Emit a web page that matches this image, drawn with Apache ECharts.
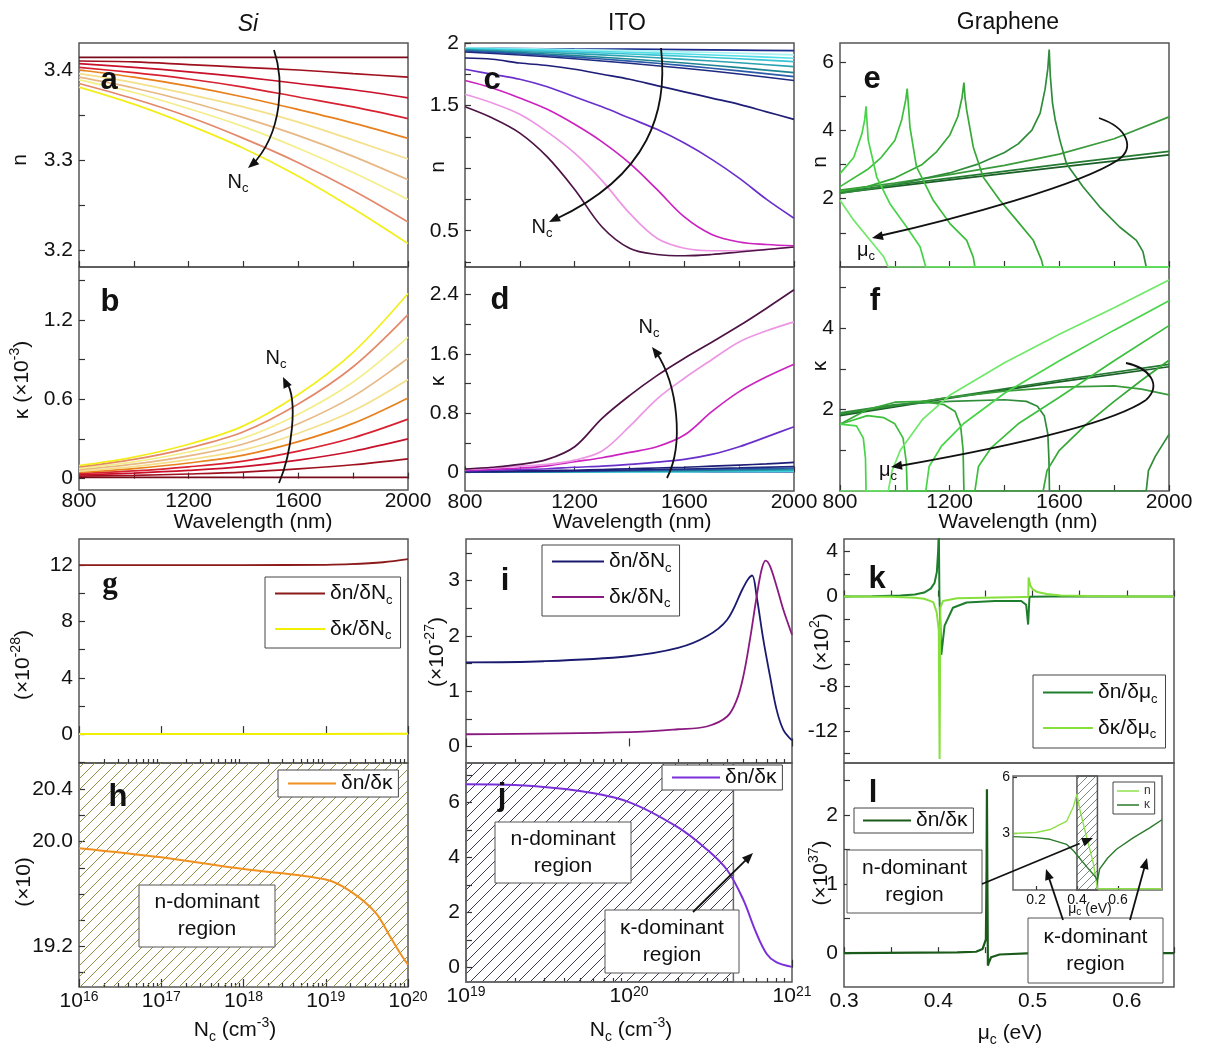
<!DOCTYPE html>
<html><head><meta charset="utf-8">
<script src="https://cdn.jsdelivr.net/npm/echarts@6/dist/echarts.min.js"></script>
<style>html,body{margin:0;padding:0;background:#fff}#c{width:1216px;height:1051px}</style>
</head><body><div id="c"></div>
<script>
// ================= DATA =================
// --- Si (panels a, b) ---
const wlSi = [800,1000,1200,1400,1600,1800,2000];
const siN = [
 [3.414,3.414,3.414,3.414,3.414,3.414,3.414],
 [3.410,3.409,3.406,3.403,3.400,3.396,3.392],
 [3.407,3.403,3.398,3.392,3.385,3.378,3.369],
 [3.403,3.397,3.390,3.381,3.370,3.359,3.346],
 [3.400,3.392,3.382,3.370,3.356,3.341,3.324],
 [3.396,3.386,3.373,3.359,3.342,3.322,3.301],
 [3.392,3.380,3.365,3.347,3.327,3.304,3.278],
 [3.389,3.375,3.357,3.337,3.313,3.286,3.256],
 [3.385,3.368,3.348,3.324,3.297,3.266,3.231],
 [3.381,3.362,3.339,3.313,3.282,3.246,3.207]
];
const siK = [
 [0.01,0.01,0.01,0.01,0.01,0.01,0.01],
 [0.019,0.025,0.035,0.049,0.073,0.105,0.15],
 [0.029,0.042,0.062,0.091,0.14,0.207,0.30],
 [0.038,0.058,0.089,0.133,0.208,0.309,0.45],
 [0.048,0.076,0.118,0.178,0.28,0.418,0.61],
 [0.057,0.091,0.143,0.217,0.343,0.513,0.75],
 [0.068,0.109,0.172,0.262,0.415,0.622,0.91],
 [0.078,0.127,0.201,0.307,0.487,0.731,1.07],
 [0.089,0.145,0.231,0.354,0.564,0.846,1.24],
 [0.099,0.163,0.26,0.399,0.636,0.955,1.40]
];
const siColors = ['#7a0a1a','#a0101e','#c8102a','#d82232','#e8801e','#f4e08a','#e8b884','#f4ee8a','#e4886a','#f2ee1a'];

// --- ITO (panels c, d) ---
const wlItoCoarse = [800,1000,1200,1400,1600,1800,2000];
const itoNLow = [
 [1.958,1.956,1.953,1.951,1.947,1.943,1.939],
 [1.962,1.956,1.948,1.940,1.929,1.918,1.905],
 [1.957,1.949,1.938,1.926,1.912,1.896,1.878],
 [1.952,1.941,1.928,1.912,1.894,1.874,1.851],
 [1.947,1.932,1.915,1.894,1.869,1.842,1.811],
 [1.942,1.923,1.899,1.872,1.840,1.803,1.763],
 [1.936,1.914,1.887,1.855,1.819,1.777,1.731],
 [1.928,1.904,1.874,1.838,1.798,1.752,1.700]
];
const itoKLow = [
 [0.002,0.002,0.003,0.003,0.004,0.004,0.005],
 [0.003,0.004,0.005,0.006,0.008,0.009,0.010],
 [0.004,0.005,0.007,0.009,0.011,0.013,0.016],
 [0.005,0.006,0.009,0.012,0.015,0.019,0.024],
 [0.005,0.008,0.011,0.016,0.021,0.027,0.034],
 [0.006,0.010,0.014,0.020,0.027,0.036,0.046],
 [0.007,0.012,0.018,0.026,0.036,0.047,0.060],
 [0.008,0.014,0.022,0.033,0.046,0.062,0.080]
];
const itoLowColors = ['#1c2a8c','#a8f2f2','#52dfe8','#38c4d4','#2aa2b2','#1e8492','#2a5aa8','#1e2a80'];
const wlItoFine = [800,900,1000,1100,1200,1300,1400,1500,1600,1700,1800,1900,2000];
const itoNHigh = [
 [1.88,1.87,1.84,1.82,1.79,1.75,1.71,1.66,1.61,1.56,1.51,1.45,1.39],
 [1.79,1.75,1.71,1.65,1.57,1.49,1.40,1.31,1.20,1.07,0.92,0.75,0.60],
 [1.70,1.64,1.56,1.47,1.35,1.21,1.04,0.83,0.61,0.47,0.41,0.39,0.38],
 [1.59,1.52,1.43,1.29,1.12,0.90,0.64,0.44,0.36,0.34,0.34,0.35,0.37],
 [1.49,1.40,1.28,1.09,0.83,0.53,0.36,0.31,0.30,0.31,0.33,0.35,0.37]
];
const itoKHigh = [
 [0.01,0.015,0.02,0.025,0.03,0.04,0.05,0.06,0.07,0.085,0.10,0.115,0.135],
 [0.02,0.03,0.04,0.05,0.07,0.085,0.108,0.14,0.176,0.243,0.347,0.48,0.617],
 [0.03,0.045,0.06,0.09,0.144,0.198,0.27,0.347,0.504,0.82,1.09,1.29,1.46],
 [0.04,0.06,0.086,0.108,0.167,0.29,0.62,0.99,1.27,1.52,1.76,1.91,2.03],
 [0.045,0.07,0.108,0.176,0.347,0.73,1.036,1.306,1.54,1.756,1.977,2.215,2.463]
];
const itoHighColors = ['#1e1e78','#6a30cc','#cc22c0','#ec96e4','#4e1446'];

// --- Graphene (panels e, f): [wavelength nm, value] ---
const grN1 = [[800,2.17],[1200,2.55],[1600,2.92],[2000,3.28]];
const grN2 = [[800,2.2],[1200,2.6],[1600,3.0],[2000,3.38]];
const grN3 = [[800,2.25],[1000,2.45],[1200,2.7],[1400,2.97],[1600,3.3],[1800,3.75],[2000,4.39]];
const grN4 = [[800,2.15],[1000,2.4],[1200,2.75],[1300,3.0],[1400,3.35],[1450,3.6],[1500,4.0],[1530,4.5],[1548,5.2],[1558,5.8],[1563,6.36],[1567,5.6],[1575,4.8],[1585,4.3],[1602,3.71],[1626,3.02],[1687,2.34],[1747,1.76],[1820,1.17],[1881,0.78],[1905,0.45],[1917,0],[2000,0]];
const grN5 = [[800,2.2],[900,2.35],[1000,2.6],[1100,3.0],[1150,3.35],[1200,3.85],[1230,4.4],[1245,4.95],[1252,5.39],[1256,4.95],[1262,4.59],[1286,3.51],[1322,2.63],[1383,1.95],[1444,1.37],[1505,0.78],[1535,0.2],[1541,0],[2000,0]];
const grN6 = [[800,2.35],[900,2.85],[950,3.2],[1000,3.7],[1025,4.3],[1040,4.9],[1045,5.22],[1049,4.8],[1055,4.1],[1079,2.93],[1140,1.95],[1201,1.27],[1262,0.78],[1286,0.29],[1292,0],[2000,0]];
const grN7 = [[800,2.73],[850,3.2],[880,3.9],[890,4.3],[895,4.7],[899,4.2],[903,3.71],[934,2.63],[982,1.85],[1043,1.17],[1092,0.59],[1113,0],[2000,0]];
const grN8 = [[800,1.95],[850,1.37],[910,0.78],[960,0.29],[976,0],[2000,0]];
const grK1 = [[800,1.85],[1200,2.28],[1600,2.68],[2000,3.05]];
const grK2 = [[800,1.88],[1200,2.30],[1600,2.72],[2000,3.11]];
const grK3 = [[800,1.9],[1000,2.1],[1200,2.3],[1400,2.45],[1600,2.55],[1800,2.58],[1900,2.5],[2000,2.36]];
const grK4 = [[800,1.92],[1000,2.12],[1200,2.2],[1400,2.24],[1480,2.2],[1520,2.08],[1545,1.85],[1558,1.4],[1562,0.8],[1564,0],[1917,0],[1925,0.5],[1950,0.85],[2000,1.39]];
const grK5 = [[800,1.64],[900,2.0],[1000,2.18],[1100,2.2],[1180,2.12],[1220,1.95],[1240,1.6],[1249,1.0],[1252,0],[1541,0],[1555,0.5],[1600,1.0],[1700,1.65],[1800,2.2],[1900,2.72],[2000,3.21]];
const grK6 = [[800,1.64],[900,1.85],[960,1.8],[1000,1.65],[1030,1.3],[1042,0.7],[1045,0],[1292,0],[1305,0.6],[1350,1.05],[1450,1.65],[1600,2.3],[1800,3.2],[2000,4.06]];
const grK7 = [[800,1.64],[860,1.6],[885,1.3],[893,0.8],[895,0],[1113,0],[1125,0.6],[1170,1.1],[1250,1.65],[1400,2.4],[1600,3.2],[1800,3.95],[2000,4.67]];
const grK8 = [[800,0],[976,0],[990,0.5],[1020,1.0],[1100,1.75],[1200,2.35],[1400,3.15],[1600,3.85],[1800,4.5],[2000,5.18]];
const grColors = ['#1b5e27','#237a30','#3a9a3c','#2f8c3a','#36a836','#3cbf3c','#48d448','#70e86a'];

// --- g, h: Si derivatives vs Nc (cm^-3) ---
const gDn = [[1e16,12.0],[1e17,12.0],[1e18,12.0],[1e19,12.02],[2e19,12.06],[5e19,12.2],[1e20,12.42]];
const gDk = [[1e16,0.01],[1e18,0.01],[1e20,0.02]];
const hRatio = [[1e16,19.95],[1e17,19.88],[1e18,19.79],[1e19,19.71],[2e19,19.62],[4e19,19.46],[6e19,19.28],[8e19,19.15],[1e20,19.06]];
const hHatch = [1e16, 1e20];
// --- i, j: ITO derivatives ---
const iDn = [[1e19,1.52],[3e19,1.54],[1e20,1.63],[2e20,1.78],[3e20,1.99],[4e20,2.29],[5e20,2.86],[5.4e20,3.03],[5.7e20,3.09],[6.07e20,2.71],[6.67e20,1.93],[7.33e20,1.27],[8.05e20,0.66],[8.85e20,0.30],[1e21,0.11]];
const iDk = [[1e19,0.22],[1e20,0.26],[2e20,0.31],[3e20,0.36],[4e20,0.54],[4.58e20,0.84],[5.03e20,1.27],[5.52e20,1.93],[6.07e20,2.71],[6.51e20,3.2],[6.89e20,3.36],[7.33e20,3.26],[8.05e20,2.89],[8.85e20,2.47],[1e21,2.02]];
const jRatio = [[1e19,6.67],[2e19,6.64],[5e19,6.42],[1e20,6.02],[2e20,5.1],[3e20,4.3],[4e20,3.55],[5e20,2.5],[6e20,1.3],[7e20,0.5],[8e20,0.2],[1e21,0.03]];
const jHatch = [1e19, 4.37e20];
// --- k, l: graphene derivatives vs mu_c (eV) ---
const kDn = [[0.3,0],[0.33,0.02],[0.36,0.08],[0.375,0.18],[0.385,0.35],[0.392,0.7],[0.396,1.2],[0.3985,2.2],[0.3998,4],[0.4006,6],[0.4012,0],[0.4032,-5.2],[0.4067,-2.6],[0.4155,-1.0],[0.43,-0.53],[0.46,-0.4],[0.488,-0.4],[0.4932,-0.73],[0.4953,-2.5],[0.4967,-0.02],[0.52,0],[0.65,0]];
const kDk = [[0.3,0],[0.35,-0.03],[0.375,-0.1],[0.385,-0.2],[0.3947,-0.5],[0.3983,-1.4],[0.4005,-3],[0.4014,-14.5],[0.4022,-1.0],[0.405,-0.4],[0.42,-0.15],[0.49,-0.05],[0.4955,-0.05],[0.4958,1.7],[0.4975,1.0],[0.5,0.65],[0.505,0.4],[0.515,0.22],[0.53,0.1],[0.56,0.04],[0.6,0.01],[0.65,0]];
const lRatio = [[0.3,0],[0.42,0.01],[0.44,0.02],[0.447,0.06],[0.4505,0.2],[0.4512,1.2],[0.4516,2.37],[0.452,1.2],[0.4526,-0.18],[0.4535,-0.14],[0.456,-0.06],[0.465,-0.02],[0.5,0],[0.65,0]];
const insN = [[0.09,3.0],[0.2,3.05],[0.269,3.21],[0.35,3.65],[0.383,4.43],[0.40,5.1],[0.403,4.9],[0.414,4.26],[0.446,2.86],[0.479,1.47],[0.50,0.07],[0.815,0.07]];
const insK = [[0.09,2.83],[0.2,2.78],[0.269,2.69],[0.35,2.42],[0.383,2.08],[0.403,1.82],[0.45,1.2],[0.49,0.7],[0.50,0.5],[0.511,1.12],[0.55,1.7],[0.593,2.16],[0.674,2.77],[0.755,3.3],[0.815,3.73]];
const insHatch = [0.4, 0.5];

// tick / label values
const wlTicks = [800,1000,1200,1400,1600,1800,2000];
const wlLabels = [800,1200,1600,2000];
const muTicks = [0.3,0.35,0.4,0.45,0.5,0.55,0.6,0.65];
const muLabels = [0.3,0.4,0.5,0.6];

// ================= BUILD =================
const FONT = '"Liberation Sans", Arial, sans-serif';
const grids=[], xAxes=[], yAxes=[], series=[];
function tick(len, vals){ return {show:true, inside:true, length:len, customValues:vals, lineStyle:{color:'#333', width:1.2}}; }
function valAxis(min,max,ticks,labels,fmt,opt){
  opt = opt||{};
  return {type:'value', min, max, scale:true, axisLine:{show:false}, splitLine:{show:false},
    axisTick: tick(opt.tl||6, ticks),
    axisLabel:{show:!!labels, customValues:labels||[], formatter:fmt||(v=>String(v)), fontSize:opt.fs||21, fontFamily:FONT, color:'#111', margin:(opt.margin!=null?opt.margin:6)}};
}
function logAxis(min,max,showLabel){
  const e0 = Math.round(Math.log10(min)), e1 = Math.round(Math.log10(max));
  const major=[]; for(let e=e0;e<=e1;e++) major.push(Math.pow(10,e));
  major[0] *= (1+1e-9); major[major.length-1] *= (1-1e-9);   // keep end labels inside the log extent
  return {type:'log', logBase:10, min, max, axisLine:{show:false}, splitLine:{show:false},
    axisTick: tick(8, major),
    axisLabel:{show:showLabel, customValues:major, margin:3,
      formatter: v=>'{b|10}{sup|'+Math.round(Math.log10(v))+'}',
      rich:{b:{fontSize:21,fontFamily:FONT,color:'#111',lineHeight:22,padding:[4,0,0,0],verticalAlign:'bottom'},
            sup:{fontSize:14,fontFamily:FONT,color:'#111',lineHeight:12,verticalAlign:'top'}}}};
}
function logMinor(min,max,gi){
  const e0 = Math.round(Math.log10(min)), e1 = Math.round(Math.log10(max));
  const minor=[]; for(let e=e0;e<e1;e++) for(let m=2;m<=9;m++) minor.push(m*Math.pow(10,e));
  return {type:'log', logBase:10, min, max, gridIndex:gi, position:'bottom', axisLine:{show:false}, splitLine:{show:false},
    axisLabel:{show:false}, axisTick: tick(4, minor)};
}
function panel(rect, xa, ya, border){
  const gi = grids.length;
  grids.push(Object.assign({show:true, borderColor:border||'#555', borderWidth:1.5, backgroundColor:'rgba(0,0,0,0)'}, rect));
  xa.gridIndex=gi; ya.gridIndex=gi; xAxes.push(xa); yAxes.push(ya);
  return {x:xAxes.length-1, y:yAxes.length-1, g:gi};
}
function line(p, data, color, width, extra){
  return Object.assign({type:'line', xAxisIndex:p.x, yAxisIndex:p.y, data, showSymbol:false, symbol:'none',
    smooth:0.35, lineStyle:{color, width:width||1.6}, itemStyle:{color}, silent:true, clip:true, animation:false, z:3}, extra||{});
}
function hatchPattern(color, size, lw){
  const c = document.createElement('canvas'); c.width=size; c.height=size;
  const ctx = c.getContext('2d'); ctx.strokeStyle=color; ctx.lineWidth=lw;
  ctx.beginPath(); ctx.moveTo(0,size); ctx.lineTo(size,0);
  ctx.moveTo(-2,2); ctx.lineTo(2,-2); ctx.moveTo(size-2,size+2); ctx.lineTo(size+2,size-2); ctx.stroke();
  return {image:c, repeat:'repeat'};
}
const fmt1 = v=> v===0?'0':v.toFixed(1);
const WLX = {margin:1};

// a
const pA = panel({left:79,top:43,width:329,height:224}, valAxis(800,2000,wlTicks,null), valAxis(3.181,3.430,[3.2,3.25,3.3,3.35,3.4],[3.2,3.3,3.4],v=>v.toFixed(1)));
siN.forEach((arr,i)=>series.push(line(pA, wlSi.map((x,j)=>[x,arr[j]]), siColors[i], 1.7)));
// b
const pB = panel({left:79,top:267,width:329,height:223}, valAxis(800,2000,wlTicks,wlLabels,null,WLX), valAxis(-0.086,1.6,[0,0.3,0.6,0.9,1.2,1.5],[0,0.6,1.2],fmt1));
siK.forEach((arr,i)=>series.push(line(pB, wlSi.map((x,j)=>[x,arr[j]]), siColors[i], 1.7)));
// c
const pC = panel({left:465,top:43,width:329,height:224}, valAxis(800,2000,wlTicks,null), valAxis(0.21,2.0,[0.25,0.5,0.75,1,1.25,1.5,1.75,2],[0.5,1.5,2],v=>v===2?'2':v.toFixed(1)));
itoNLow.forEach((arr,i)=>series.push(line(pC, wlItoCoarse.map((x,j)=>[x,arr[j]]), itoLowColors[i], 1.6)));
itoNHigh.forEach((arr,i)=>series.push(line(pC, wlItoFine.map((x,j)=>[x,arr[j]]), itoHighColors[i], 1.7)));
// d
const pD = panel({left:465,top:267,width:329,height:224}, valAxis(800,2000,wlTicks,wlLabels,null,WLX), valAxis(-0.25,2.77,[0,0.4,0.8,1.2,1.6,2.0,2.4],[0,0.8,1.6,2.4],fmt1));
itoKLow.forEach((arr,i)=>series.push(line(pD, wlItoCoarse.map((x,j)=>[x,arr[j]]), itoLowColors[i], 1.6)));
itoKHigh.forEach((arr,i)=>series.push(line(pD, wlItoFine.map((x,j)=>[x,arr[j]]), itoHighColors[i], 1.7)));
// e
const pE = panel({left:840,top:43,width:329,height:224}, valAxis(800,2000,wlTicks,null), valAxis(0,6.55,[1,2,3,4,5,6],[2,4,6]));
[grN1,grN2,grN3,grN4,grN5,grN6,grN7,grN8].forEach((d,i)=>series.push(line(pE, d, grColors[i], 1.7, {smooth:false})));
// f
const pF = panel({left:840,top:267,width:329,height:224}, valAxis(800,2000,wlTicks,wlLabels,null,WLX), valAxis(0,5.5,[1,2,3,4,5],[2,4]));
[grK1,grK2,grK3,grK4,grK5,grK6,grK7,grK8].forEach((d,i)=>series.push(line(pF, d, grColors[i], 1.7, {smooth:false})));
// g
const pG = panel({left:79,top:539,width:329,height:224}, logAxis(1e16,1e20,false), valAxis(-2.05,13.85,[-2,0,2,4,6,8,10,12],[0,4,8,12]));
xAxes.push(logMinor(1e16,1e20,pG.g));
series.push(line(pG, gDn, '#8b1a1a', 1.8, {name:'gDn'}));
series.push(line(pG, gDk, '#f2f000', 2, {name:'gDk'}));
// h
const pH = panel({left:79,top:763,width:329,height:224}, logAxis(1e16,1e20,true), valAxis(18.89,20.6,[19.0,19.2,19.4,19.6,19.8,20.0,20.2,20.4],[19.2,20.0,20.4],v=>v.toFixed(1)));
xAxes.push(logMinor(1e16,1e20,pH.g));
series.push(line(pH, hRatio, '#f0901e', 2, {name:'hR', markArea:{silent:true, itemStyle:{color:hatchPattern('#8f8f48',11,1)}, data:[[{xAxis:hHatch[0]},{xAxis:hHatch[1]}]]}}));
// i
const pI = panel({left:466,top:539,width:326,height:224}, logAxis(1e19,1e21,false), valAxis(-0.3,3.75,[0,0.5,1,1.5,2,2.5,3,3.5],[0,1,2,3]));
xAxes.push(logMinor(1e19,1e21,pI.g));
series.push(line(pI, iDn, '#1a1a70', 1.8, {name:'iDn'}));
series.push(line(pI, iDk, '#8a1a80', 1.8, {name:'iDk'}));
// j
const pJ = panel({left:466,top:763,width:326,height:219}, logAxis(1e19,1e21,true), valAxis(-0.52,7.44,[0,1,2,3,4,5,6,7],[0,2,4,6]));
xAxes.push(logMinor(1e19,1e21,pJ.g));
series.push(line(pJ, jRatio, '#7a30d8', 2, {name:'jR', markArea:{silent:true, itemStyle:{color:hatchPattern('#3a3a52',12,1), borderColor:'#666', borderWidth:1.5}, data:[[{xAxis:jHatch[0]},{xAxis:jHatch[1]}]]}}));
// k
const pK = panel({left:844,top:539,width:330,height:224}, valAxis(0.3,0.65,muTicks,null), valAxis(-14.85,5.13,[-14,-12,-10,-8,-6,-4,-2,0,2,4],[4,0,-8,-12]));
series.push(line(pK, kDn, '#1e7e2e', 2, {name:'kDn', smooth:false}));
series.push(line(pK, kDk, '#86e03c', 2, {name:'kDk', smooth:false}));
// l
const pL = panel({left:844,top:763,width:330,height:224}, valAxis(0.3,0.65,muTicks,muLabels,v=>v.toFixed(1),{margin:4}), valAxis(-0.49,2.75,[0,0.5,1,1.5,2,2.5],[0,1,2]));
series.push(line(pL, lRatio, '#1a5a1a', 2.2, {name:'lR', smooth:false}));
// inset in l
const pIn = panel({left:1013,top:776,width:149,height:114},
  valAxis(0.088,0.815,[0.2,0.4,0.6],[0.2,0.4,0.6],v=>v.toFixed(1),{fs:14,tl:4,margin:3}),
  valAxis(0,6.05,[3,6],[3,6],null,{fs:14,tl:4,margin:3}), '#666');
grids[pIn.g].backgroundColor = '#fff';
series.push(line(pIn, insN, '#8ee04a', 1.4, {name:'insN', smooth:false}));
series.push(line(pIn, insK, '#2a7a2a', 1.4, {name:'insK', smooth:false, markArea:{silent:true, itemStyle:{color:hatchPattern('#7a8a80',8,1), borderColor:'#555', borderWidth:1.5}, data:[[{xAxis:insHatch[0]},{xAxis:insHatch[1]}]]}}));

// ---- legends ----
const LEG = {gDn:'{t|δn/δN}{sub|c}', gDk:'{t|δκ/δN}{sub|c}', hR:'{t|δn/δκ}', iDn:'{t|δn/δN}{sub|c}', iDk:'{t|δκ/δN}{sub|c}',
  jR:'{t|δn/δκ}', kDn:'{t|δn/δμ}{sub|c}', kDk:'{t|δκ/δμ}{sub|c}', lR:'{t|δn/δκ}', insN:'{s|n}', insK:'{s|κ}'};
const legRich = {t:{fontSize:21,fontFamily:FONT,color:'#111',lineHeight:26}, sub:{fontSize:13,fontFamily:FONT,color:'#111',lineHeight:12,verticalAlign:'bottom'}, s:{fontSize:12,fontFamily:FONT,color:'#333',lineHeight:13}};
function legend(names, left, top, pad, gap, iw, ih){
  return {data:names, left, top, orient:'vertical', padding:pad, itemGap:gap, itemWidth:iw, itemHeight:ih||2, icon:'rect',
    selectedMode:false, backgroundColor:'#fff', borderColor:'#444', borderWidth:1, formatter:n=>LEG[n],
    textStyle:{fontSize:21, fontFamily:FONT, color:'#111', rich:legRich}, z:20};
}
const legends = [
  legend(['gDn','gDk'], 265, 577, [6,8,6,10], 12, 50),
  legend(['hR'], 278, 770, [3,6,3,10], 10, 48),
  legend(['iDn','iDk'], 542, 545, [6,8,6,10], 12, 52),
  legend(['jR'], 662, 765, [2,6,2,10], 10, 48),
  legend(['kDn','kDk'], 1033, 675, [7,8,7,10], 12, 50),
  legend(['lR'], 854, 808, [2,6,2,9], 10, 48),
  legend(['insN','insK'], 1113, 782, [3,4,3,4], 2, 22, 1.5)
];

// ---- graphics (texts, arrows, boxes) ----
const G = [];
const rtxt = {sup:{fontSize:14,fontFamily:FONT,color:'#111',lineHeight:14,verticalAlign:'top'}, sub:{fontSize:14,fontFamily:FONT,color:'#111',lineHeight:13,verticalAlign:'bottom'}, m:{fontSize:21,fontFamily:FONT,color:'#111',lineHeight:28}};
function txt(text, x, y, o){
  o=o||{};
  G.push({type:'text', x, y, rotation:o.rot||0, z:60, style:{text, fontSize:o.fs||21, fontFamily:o.ff||FONT, fontWeight:o.fw||'normal', fontStyle:o.fst||'normal', fill:'#111', align:'center', verticalAlign:'middle', rich:o.rich}});
}
txt('Si', 248, 25, {fs:23, fst:'italic'});
txt('ITO', 627, 24, {fs:23});
txt('Graphene', 1008, 23, {fs:23});
[['a',109,80],['b',110,302],['c',492,80],['d',500,300],['e',872,79],['f',875,301],['g',110,585],['h',118,797],['i',505,581],['j',502,796],['k',877,579],['l',873,793]]
  .forEach(l=>txt(l[0], l[1], l[2], {fs:31, fw:'bold', ff: l[0]==='g' ? '"Liberation Serif", serif' : FONT}));
const R = Math.PI/2;
txt('n', 20, 160, {rot:R});
txt('{m|κ (×10}{sup|-3}{m|)}', 22, 380, {rot:R, rich:rtxt});
txt('n', 438, 167, {rot:R});
txt('κ', 438, 381, {rot:R});
txt('n', 820, 162, {rot:R});
txt('κ', 820, 366, {rot:R});
txt('{m|(×10}{sup|-28}{m|)}', 23, 665, {rot:R, rich:rtxt});
txt('(×10)', 24, 882, {rot:R});
txt('{m|(×10}{sup|-27}{m|)}', 437, 652, {rot:R, rich:rtxt});
txt('{m|(×10}{sup|2}{m|)}', 822, 642, {rot:R, rich:rtxt});
txt('{m|(×10}{sup|37}{m|)}', 821, 873, {rot:R, rich:rtxt});
txt('Wavelength (nm)', 253, 522);
txt('Wavelength (nm)', 632, 522);
txt('Wavelength (nm)', 1018, 522);
txt('{m|N}{sub|c}{m| (cm}{sup|-3}{m|)}', 235, 1030, {rich:rtxt});
txt('{m|N}{sub|c}{m| (cm}{sup|-3}{m|)}', 631, 1030, {rich:rtxt});
txt('{m|μ}{sub|c}{m| (eV)}', 1010, 1033, {rich:rtxt});
const rsm = {m:{fontSize:14,fontFamily:FONT,color:'#111',lineHeight:16}, sub:{fontSize:10,fontFamily:FONT,color:'#111',lineHeight:9,verticalAlign:'bottom'}};
txt('{m|μ}{sub|c}{m| (eV)}', 1090, 909, {rich:rsm});
const rN = {m:{fontSize:20,fontFamily:FONT,color:'#111',lineHeight:26}, sub:{fontSize:13,fontFamily:FONT,color:'#111',lineHeight:12,verticalAlign:'bottom'}};
txt('{m|N}{sub|c}', 238, 182, {rich:rN});
txt('{m|N}{sub|c}', 276, 358, {rich:rN});
txt('{m|N}{sub|c}', 542, 227, {rich:rN});
txt('{m|N}{sub|c}', 649, 327, {rich:rN});
txt('{m|μ}{sub|c}', 866, 250, {rich:rN});
txt('{m|μ}{sub|c}', 888, 470, {rich:rN});
function box(x,y,w,h,text){
  G.push({type:'rect', shape:{x,y,width:w,height:h}, z:55, style:{fill:'#fff', stroke:'#555', lineWidth:1}});
  G.push({type:'text', x:x+w/2, y:y+h/2, z:56, style:{text, fontSize:21, fontFamily:FONT, fill:'#111', align:'center', verticalAlign:'middle', lineHeight:27}});
}
box(139,885,136,62,'n-dominant\nregion');
box(495,822,136,61,'n-dominant\nregion');
box(605,910,134,63,'κ-dominant\nregion');
box(847,850,135,63,'n-dominant\nregion');
box(1028,918,135,65,'κ-dominant\nregion');
function head(tip, from, len, w){
  const dx=tip[0]-from[0], dy=tip[1]-from[1], L=Math.hypot(dx,dy), ux=dx/L, uy=dy/L;
  const bx=tip[0]-ux*len, by=tip[1]-uy*len;
  G.push({type:'polygon', z:70, shape:{points:[tip,[bx-uy*w,by+ux*w],[bx+uy*w,by-ux*w]]}, style:{fill:'#111'}});
}
function bez(p0,c1,c2,p1){
  G.push({type:'bezierCurve', z:70, shape:{x1:p0[0],y1:p0[1],cpx1:c1[0],cpy1:c1[1],cpx2:c2[0],cpy2:c2[1],x2:p1[0],y2:p1[1]}, style:{stroke:'#111', lineWidth:1.8, fill:null}});
}
bez([274,50],[284,80],[283,133],[252,165]); head([248,168],[262,156],11,4.5);
bez([279,483],[291,455],[299,400],[286,381]); head([283,377],[290,392],11,4.5);
bez([661,48],[668,110],[650,175],[556,219]); head([549,222],[570,212],11,4.5);
bez([667,478],[684,445],[678,385],[656,352]); head([652,347],[662,360],11,4.5);
bez([1099,118],[1128,128],[1135,148],[1118,160]); bez([1118,160],[1080,185],[960,218],[879,236]); head([872,238],[890,234],11,4.5);
bez([1126,363],[1150,368],[1162,385],[1146,400]); bez([1146,400],[1110,425],[990,450],[899,466]); head([891,467],[910,464],11,4.5);
function straightArrow(a,b){ G.push({type:'line', z:70, shape:{x1:a[0],y1:a[1],x2:b[0]-(b[0]-a[0])*0.12,y2:b[1]-(b[1]-a[1])*0.12}, style:{stroke:'#111',lineWidth:1.8}}); head(b,a,11,4.5); }
straightArrow([693,912],[753,853]);
straightArrow([982,884],[1093,838]);
straightArrow([1063,920],[1046,869]);
straightArrow([1130,920],[1147,858]);

const chart = echarts.init(document.getElementById('c'), null, {renderer:'canvas'});
chart.setOption({
  animation:false, backgroundColor:'#fff', textStyle:{fontFamily:FONT},
  grid:grids, xAxis:xAxes, yAxis:yAxes, series, legend:legends, graphic:{elements:G}
});
</script></body></html>
